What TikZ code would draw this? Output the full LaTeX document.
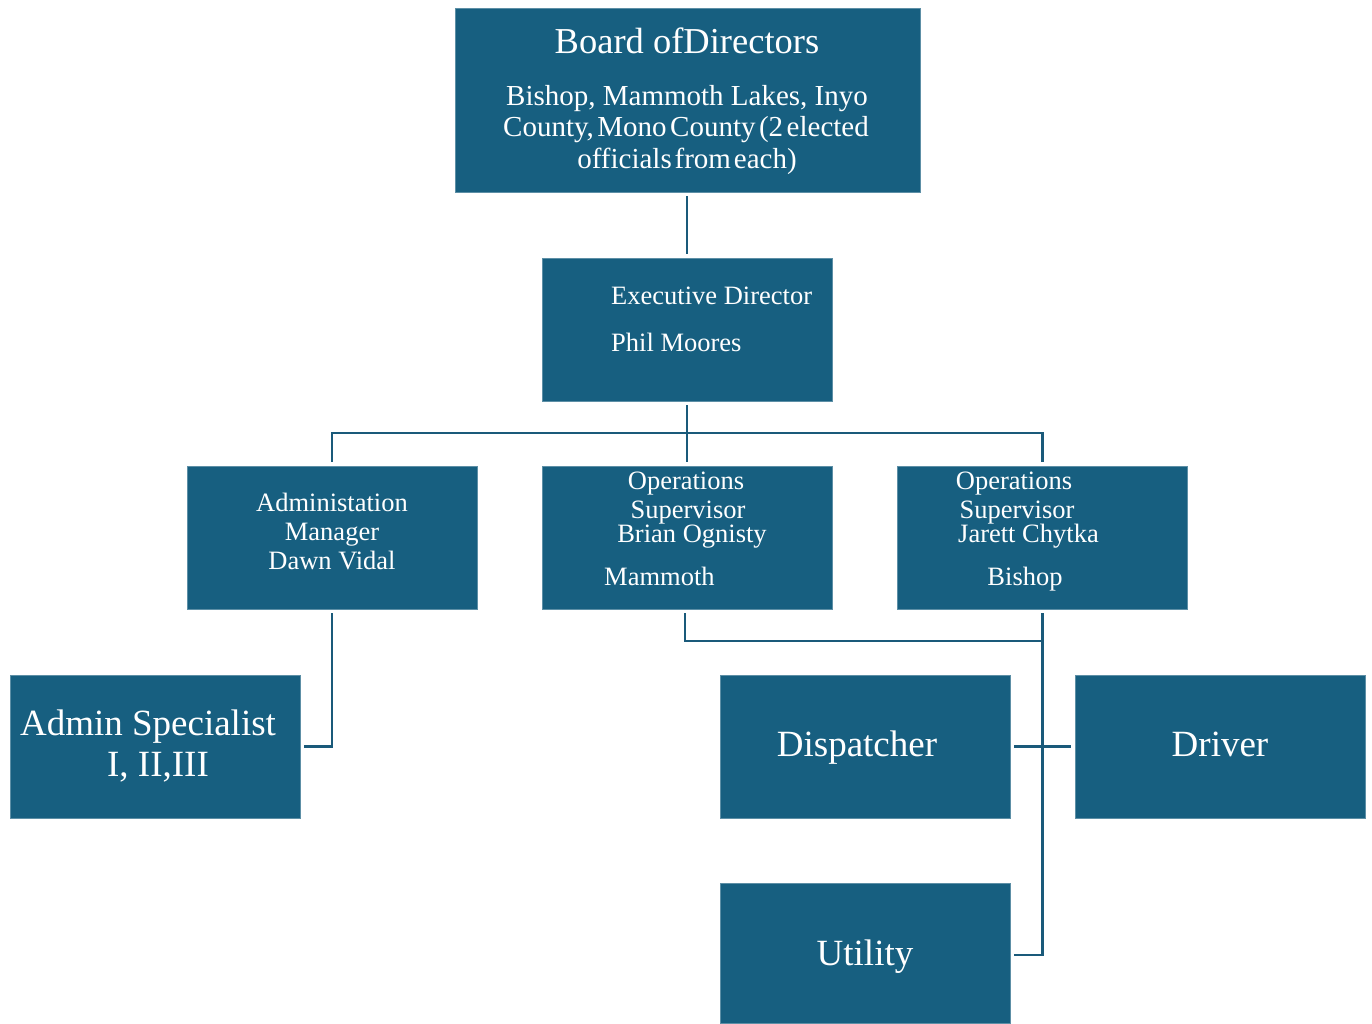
\documentclass[tikz,border=0pt]{standalone}
\usepackage{fontspec}
\setmainfont{Liberation Serif}
\usetikzlibrary{calc}
\definecolor{boxblue}{HTML}{175F80}
\definecolor{lineblue}{HTML}{1A5A7A}
\tikzset{
  orgbox/.style={fill=boxblue, draw=boxblue!70!white, line width=0.6pt, inner sep=0pt},
  big/.style={text=white, inner sep=0pt, font=\fontsize{36.5}{40}\selectfont},
  mid/.style={text=white, inner sep=0pt, font=\fontsize{29}{32}\selectfont},
  small/.style={text=white, inner sep=0pt, font=\fontsize{26.5}{29}\selectfont},
  large/.style={text=white, inner sep=0pt, font=\fontsize{37}{41}\selectfont},
  conn/.style={draw=lineblue, line width=2.8pt}
}
\begin{document}
\begin{tikzpicture}[x=1pt,y=-1pt]
\useasboundingbox (0,0) rectangle (1372,1023);
% boxes
\node[orgbox, minimum width=465pt, minimum height=184pt] (board) at (687.5,100) {};
\node[orgbox, minimum width=290pt, minimum height=143pt] (exec) at (687,329.5) {};
\node[orgbox, minimum width=290pt, minimum height=143pt] (adm) at (332,537.5) {};
\node[orgbox, minimum width=290pt, minimum height=143pt] (opsm) at (687,537.5) {};
\node[orgbox, minimum width=290pt, minimum height=143pt] (opsb) at (1042.5,537.5) {};
\node[orgbox, minimum width=290pt, minimum height=143pt] (spec) at (155,746.5) {};
\node[orgbox, minimum width=290pt, minimum height=143pt] (disp) at (865,746.5) {};
\node[orgbox, minimum width=290pt, minimum height=143pt] (drv) at (1220,746.5) {};
\node[orgbox, minimum width=290pt, minimum height=140pt] (util) at (865,953) {};
% texts
\node[big, anchor=base] (t1) at (687,53) {Board ofDirectors};
\node[mid, anchor=base] (t2) at (687,105) {Bishop, Mammoth Lakes, Inyo};
\node[mid, anchor=base] (t3) at (686,136) {\spaceskip=0.12em County, Mono County (2 elected};
\node[mid, anchor=base] (t4) at (687,168) {\spaceskip=0.1em officials from each)};
\node[small, anchor=base west] (t5) at (611,304) {Executive Director};
\node[small, anchor=base west] (t6) at (611,351) {Phil Moores};
\node[small, anchor=base] (t7) at (332,511) {Administation};
\node[small, anchor=base] (t8) at (332,540) {Manager};
\node[small, anchor=base] (t9) at (332,569) {Dawn Vidal};
\node[small, anchor=base] (t10) at (686,489) {Operations};
\node[small, anchor=base] (t11) at (688,518) {Supervisor};
\node[small, anchor=base] (t12) at (692,542) {Brian Ognisty};
\node[small, anchor=base west] (t13) at (604,585) {Mammoth};
\node[small, anchor=base] (t14) at (1014,489) {Operations};
\node[small, anchor=base] (t15) at (1017,518) {Supervisor};
\node[small, anchor=base west] (t16) at (958,542) {Jarett Chytka};
\node[small, anchor=base] (t17) at (1025,585) {Bishop};
\node[large, anchor=base] (t18) at (148,735) {Admin Specialist};
\node[large, anchor=base] (t19) at (158,776) {I, II,III};
\node[large, anchor=base] (t20) at (857,756) {Dispatcher};
\node[large, anchor=base] (t21) at (1220,756) {Driver};
\node[large, anchor=base] (t22) at (865,965) {Utility};
% connectors
\coordinate (j1) at (687,433);
\coordinate (j2) at (1043,641);
\draw[conn] ($(board.south -| exec.north)+(0,4)$) -- ($(exec.north)+(0,-4)$);
\draw[conn] ($(exec.south)+(0,4)$) -- ($(opsm.north)+(0,-4)$);
\draw[conn] ($(adm.north)+(0,-4)$) |- (j1) -| ($(opsb.north)+(0,-4)$);
\draw[conn] ($(adm.south)+(0,4)$) |- ($(spec.east)+(4,0)$);
\draw[conn] ($(opsm.south)+(-2,4)$) |- (j2);
\draw[conn] ($(opsb.south)+(0,4)$) |- ($(util.east)+(4,2)$);
\draw[conn] ($(disp.east)+(4,0)$) -- ($(drv.west)+(-4,0)$);
\end{tikzpicture}
\end{document}
